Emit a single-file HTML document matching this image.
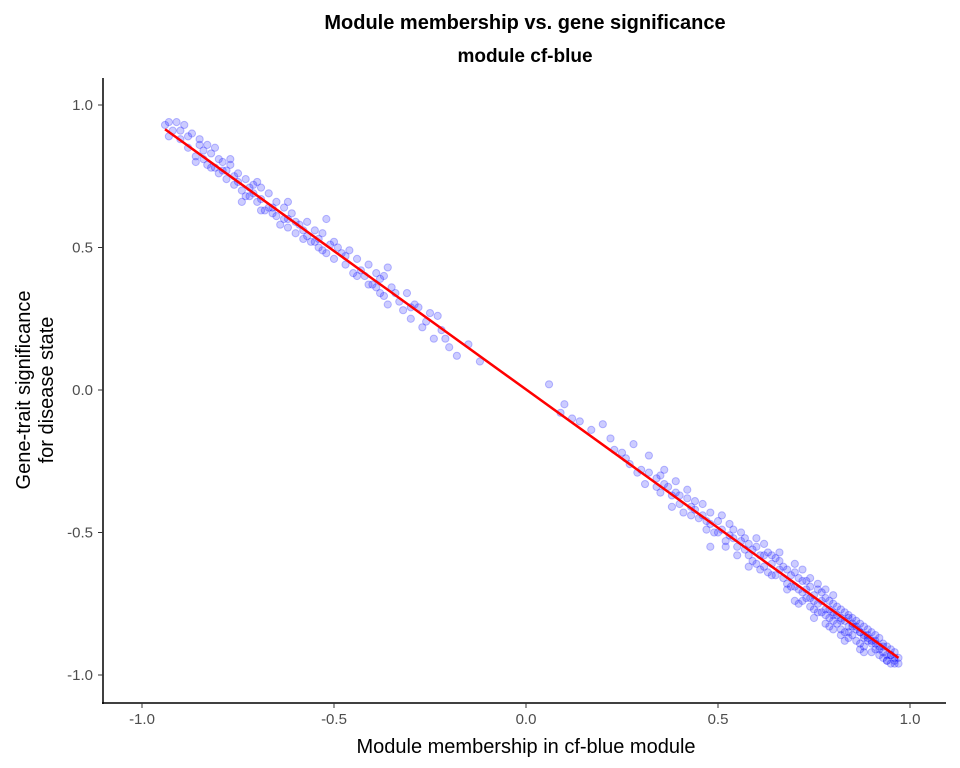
<!DOCTYPE html>
<html><head><meta charset="utf-8"><style>
body{margin:0;background:#fff}
svg{display:block;font-family:"Liberation Sans",Arial,sans-serif}
</style></head><body>
<svg id="chart" width="960" height="768">
<text x="525" y="29" text-anchor="middle" font-size="20" font-weight="bold">Module membership vs. gene significance</text>
<text x="525" y="62" text-anchor="middle" font-size="19" font-weight="bold">module cf-blue</text>
<g id="pts"></g>
<g id="fit"></g>
<line x1="103" y1="78" x2="103" y2="704" stroke="#000" stroke-width="1.5"/>
<line x1="102" y1="703" x2="946" y2="703" stroke="#000" stroke-width="1.5"/>
<g id="xt"></g>
<g id="yt"></g>
<text x="526" y="753" text-anchor="middle" font-size="20">Module membership in cf-blue module</text>
<text transform="translate(30,390) rotate(-90)" text-anchor="middle" font-size="20"><tspan x="0" dy="0">Gene-trait significance</tspan><tspan x="0" dy="23">for disease state</tspan></text>
</svg>
<script>
const membership = [
-0.94,-0.93,-0.92,-0.91,-0.90,-0.89,-0.88,-0.87,-0.86,-0.85,
-0.84,-0.83,-0.82,-0.81,-0.80,-0.79,-0.78,-0.77,-0.76,-0.75,
-0.74,-0.73,-0.72,-0.71,-0.70,-0.69,-0.68,-0.67,-0.66,-0.65,
-0.64,-0.63,-0.62,-0.61,-0.60,-0.59,-0.58,-0.57,-0.56,-0.55,
-0.54,-0.53,-0.52,-0.51,-0.50,-0.49,-0.47,-0.46,-0.45,-0.44,
-0.42,-0.41,-0.40,-0.39,-0.38,-0.37,-0.36,-0.35,-0.33,-0.32,
-0.31,-0.30,-0.28,-0.27,-0.25,-0.24,-0.22,-0.20,-0.18,-0.12,
-0.86,-0.83,-0.79,-0.76,-0.72,-0.69,-0.66,-0.63,-0.60,-0.57,
-0.54,-0.48,-0.43,-0.38,-0.29,-0.21,-0.15,-0.93,-0.81,-0.74,
-0.52,-0.36,
-0.90,-0.88,-0.84,-0.82,-0.80,-0.78,-0.75,-0.73,-0.71,-0.69,
-0.67,-0.65,-0.62,-0.58,-0.55,-0.53,-0.50,-0.47,-0.44,-0.41,
-0.39,-0.37,-0.34,-0.30,-0.26,-0.23,-0.62,-0.70,-0.77,-0.85,
0.06,0.09,0.12,0.14,0.20,0.23,0.25,0.27,0.28,0.30,
0.31,0.32,0.34,0.35,0.36,0.37,0.38,0.39,0.40,0.41,
0.42,0.43,0.44,0.45,0.46,0.47,0.48,0.49,0.50,0.51,
0.52,0.53,0.54,0.55,0.56,0.57,0.58,0.59,0.60,0.61,
0.62,0.63,0.64,0.65,0.66,0.67,0.68,0.69,0.70,0.71,
0.72,0.73,0.74,0.75,0.76,0.77,0.78,0.79,0.80,0.81,
0.82,0.83,0.84,0.85,0.86,0.87,0.88,0.89,0.90,0.91,
0.92,0.93,0.94,0.95,0.96,0.97,
0.72,0.74,0.76,0.78,0.80,0.82,0.84,0.86,0.88,0.90,
0.92,0.94,0.96,0.85,0.87,0.89,0.91,0.93,0.95,0.83,
0.81,0.79,0.77,0.75,0.73,0.71,0.69,0.67,0.65,0.63,
0.61,0.59,0.57,0.55,0.53,0.51,0.47,0.43,0.39,0.35,
0.29,0.78,0.84,0.90,0.86,0.92,0.88,0.80,0.74,0.70,
0.93,0.94,0.95,0.96,0.91,0.89,0.87,0.85,0.82,0.80,
0.60,0.62,0.64,0.66,0.68,0.70,0.72,0.74,0.76,0.78,
0.80,0.82,0.84,0.86,0.88,0.90,0.92,0.94,0.96,0.97,
0.71,0.73,0.75,0.77,0.79,0.81,0.83,0.85,0.87,0.89,
0.91,0.93,0.95,0.72,0.76,0.80,0.84,0.88,0.82,0.78,
0.68,0.66,0.64,0.62,0.58,0.56,0.54,0.52,0.50,0.48,
0.46,0.44,0.42,0.40,0.38,0.36,0.34,0.32,0.26,0.22,
0.17,0.10,0.48,0.58,0.60,0.70,0.75,0.79,0.83,0.87
];
const significance = [
0.93,0.94,0.91,0.94,0.88,0.93,0.85,0.90,0.82,0.86,
0.84,0.79,0.83,0.85,0.76,0.80,0.74,0.79,0.72,0.76,
0.70,0.74,0.68,0.72,0.66,0.71,0.63,0.69,0.62,0.66,
0.58,0.64,0.57,0.62,0.55,0.58,0.53,0.59,0.52,0.56,
0.50,0.55,0.48,0.51,0.46,0.50,0.44,0.49,0.41,0.46,
0.40,0.44,0.37,0.41,0.34,0.40,0.30,0.36,0.31,0.28,
0.34,0.25,0.29,0.22,0.27,0.18,0.21,0.15,0.12,0.10,
0.80,0.86,0.77,0.75,0.71,0.67,0.64,0.60,0.59,0.54,
0.53,0.48,0.42,0.39,0.30,0.18,0.16,0.89,0.78,0.66,
0.60,0.43,
0.91,0.89,0.81,0.78,0.81,0.77,0.73,0.68,0.69,0.63,
0.64,0.61,0.60,0.56,0.52,0.49,0.52,0.47,0.40,0.37,
0.36,0.33,0.34,0.29,0.24,0.26,0.66,0.73,0.81,0.88,
0.02,-0.08,-0.10,-0.11,-0.12,-0.21,-0.22,-0.26,-0.19,-0.28,
-0.33,-0.23,-0.31,-0.36,-0.28,-0.34,-0.41,-0.32,-0.37,-0.43,
-0.35,-0.41,-0.39,-0.45,-0.40,-0.46,-0.43,-0.50,-0.46,-0.49,
-0.53,-0.47,-0.52,-0.55,-0.50,-0.56,-0.54,-0.60,-0.55,-0.58,
-0.62,-0.57,-0.61,-0.65,-0.60,-0.66,-0.63,-0.69,-0.64,-0.70,
-0.67,-0.73,-0.69,-0.72,-0.75,-0.71,-0.77,-0.74,-0.79,-0.76,
-0.80,-0.78,-0.83,-0.80,-0.84,-0.82,-0.87,-0.84,-0.89,-0.86,
-0.90,-0.89,-0.93,-0.91,-0.95,-0.94,
-0.74,-0.76,-0.70,-0.73,-0.75,-0.84,-0.79,-0.88,-0.83,-0.85,
-0.93,-0.90,-0.92,-0.86,-0.89,-0.88,-0.91,-0.92,-0.96,-0.85,
-0.82,-0.80,-0.78,-0.77,-0.70,-0.66,-0.65,-0.62,-0.59,-0.64,
-0.63,-0.56,-0.52,-0.58,-0.51,-0.44,-0.49,-0.44,-0.36,-0.30,
-0.29,-0.82,-0.87,-0.92,-0.81,-0.87,-0.90,-0.72,-0.66,-0.74,
-0.94,-0.95,-0.93,-0.96,-0.88,-0.86,-0.85,-0.82,-0.81,-0.78,
-0.52,-0.58,-0.65,-0.57,-0.68,-0.61,-0.71,-0.73,-0.78,-0.70,
-0.81,-0.77,-0.85,-0.83,-0.86,-0.88,-0.91,-0.95,-0.94,-0.96,
-0.75,-0.67,-0.74,-0.74,-0.77,-0.79,-0.81,-0.83,-0.85,-0.87,
-0.89,-0.90,-0.93,-0.63,-0.68,-0.84,-0.80,-0.92,-0.86,-0.79,
-0.70,-0.63,-0.58,-0.54,-0.58,-0.53,-0.49,-0.55,-0.50,-0.47,
-0.44,-0.42,-0.38,-0.40,-0.37,-0.33,-0.34,-0.29,-0.24,-0.17,
-0.14,-0.05,-0.55,-0.62,-0.61,-0.69,-0.80,-0.83,-0.88,-0.91
];
const fitX = [-0.94, 0.97];
const fitY = [0.915, -0.94];
const xTicks = [-1.0, -0.5, 0.0, 0.5, 1.0];
const xTickLabels = ["-1.0","-0.5","0.0","0.5","1.0"];
const yTicks = [1.0, 0.5, 0.0, -0.5, -1.0];
const yTickLabels = ["1.0","0.5","0.0","-0.5","-1.0"];

const NS = "http://www.w3.org/2000/svg";
function sx(v){ return 526 + v*384; }
function sy(v){ return 390 - v*285; }

const pts = document.getElementById('pts');
for (let i = 0; i < membership.length; i++) {
  const c = document.createElementNS(NS, 'circle');
  c.setAttribute('cx', sx(membership[i]));
  c.setAttribute('cy', sy(significance[i]));
  c.setAttribute('r', 3.6);
  c.setAttribute('fill', 'rgba(0,0,255,0.2)');
  c.setAttribute('stroke', 'rgba(0,0,255,0.25)');
  c.setAttribute('stroke-width', '1');
  
  
  pts.appendChild(c);
}
const fit = document.getElementById('fit');
const ln = document.createElementNS(NS, 'line');
ln.setAttribute('x1', sx(fitX[0])); ln.setAttribute('y1', sy(fitY[0]));
ln.setAttribute('x2', sx(fitX[1])); ln.setAttribute('y2', sy(fitY[1]));
ln.setAttribute('stroke', '#ff0000'); ln.setAttribute('stroke-width', '2.5');


fit.appendChild(ln);

const xt = document.getElementById('xt');
xTicks.forEach((v, i) => {
  const t = document.createElementNS(NS, 'line');
  t.setAttribute('x1', sx(v)); t.setAttribute('x2', sx(v));
  t.setAttribute('y1', 703); t.setAttribute('y2', 708);
  t.setAttribute('stroke', '#333'); t.setAttribute('stroke-width', '1');
  
  
  xt.appendChild(t);
  const l = document.createElementNS(NS, 'text');
  l.setAttribute('x', sx(v)); l.setAttribute('y', 724);
  l.setAttribute('text-anchor', 'middle'); l.setAttribute('font-size', '15'); l.setAttribute('fill', '#4d4d4d');
  l.textContent = xTickLabels[i];
  
  
  xt.appendChild(l);
});
const yt = document.getElementById('yt');
yTicks.forEach((v, i) => {
  const t = document.createElementNS(NS, 'line');
  t.setAttribute('x1', 98); t.setAttribute('x2', 103);
  t.setAttribute('y1', sy(v)); t.setAttribute('y2', sy(v));
  t.setAttribute('stroke', '#333'); t.setAttribute('stroke-width', '1');
  
  
  yt.appendChild(t);
  const l = document.createElementNS(NS, 'text');
  l.setAttribute('x', 93); l.setAttribute('y', sy(v) + 5);
  l.setAttribute('text-anchor', 'end'); l.setAttribute('font-size', '15'); l.setAttribute('fill', '#4d4d4d');
  l.textContent = yTickLabels[i];
  
  
  yt.appendChild(l);
});
</script>
</body></html>
